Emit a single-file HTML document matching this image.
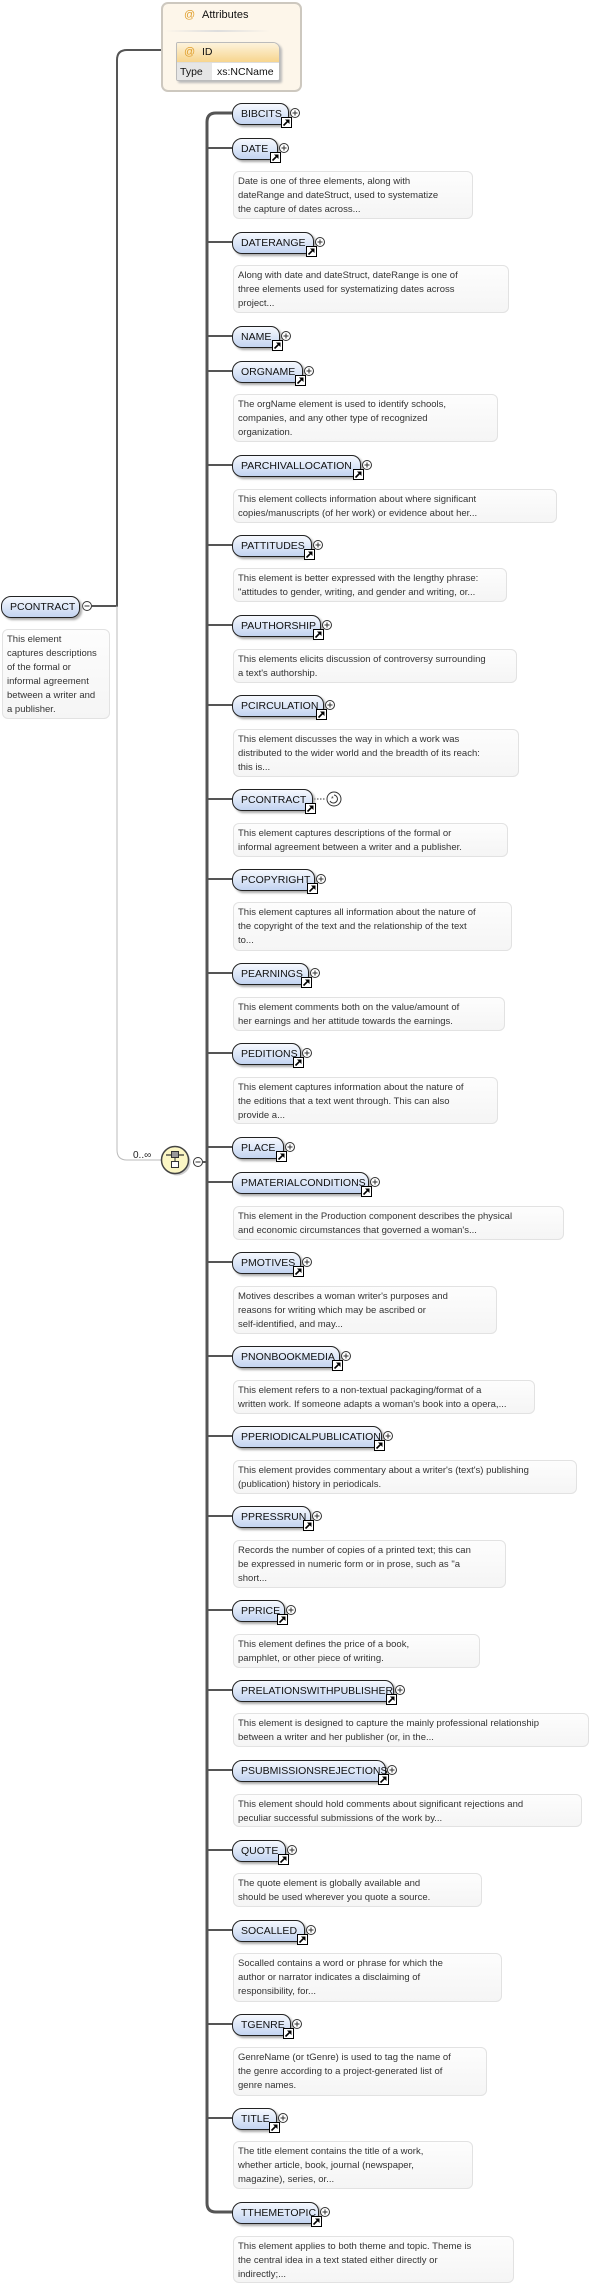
<!DOCTYPE html>
<html><head><meta charset="utf-8"><style>
html,body{margin:0;padding:0;background:#fff;}
body{width:613px;height:2287px;position:relative;overflow:hidden;font-family:"Liberation Sans",sans-serif;}
.n{position:absolute;left:232px;height:20px;border:1px solid #222;border-radius:10px 9px 9px 10px;background:linear-gradient(#f6f9fe,#c3d4f1);box-shadow:2px 2px 2px #aaa;font-size:10.5px;line-height:20px;padding-left:8px;box-sizing:content-box;color:#111;white-space:nowrap;}
.d{position:absolute;left:233px;border:1px solid #e2e2e2;border-radius:6px;background:linear-gradient(#fdfdfd,#f5f5f5);font-size:9.5px;line-height:14px;color:#333;padding:3px 0 0 4px;box-sizing:border-box;white-space:nowrap;overflow:hidden;}
svg{position:absolute;left:0;top:0;}
</style></head><body>
<svg width="613" height="2287" xmlns="http://www.w3.org/2000/svg">
<g fill="none" stroke="#555" stroke-width="3">
<path d="M232 113 H216 Q207 113 207 122 V2203 Q207 2212 216 2212 H232"/>
</g>
<g stroke="#555" stroke-width="2">
<line x1="207" y1="148" x2="232" y2="148"/><line x1="207" y1="242" x2="232" y2="242"/>
<line x1="207" y1="336" x2="232" y2="336"/><line x1="207" y1="371" x2="232" y2="371"/>
<line x1="207" y1="465" x2="232" y2="465"/><line x1="207" y1="545" x2="232" y2="545"/>
<line x1="207" y1="625" x2="232" y2="625"/><line x1="207" y1="705" x2="232" y2="705"/>
<line x1="207" y1="799" x2="232" y2="799"/><line x1="207" y1="879" x2="232" y2="879"/>
<line x1="207" y1="973" x2="232" y2="973"/><line x1="207" y1="1053" x2="232" y2="1053"/>
<line x1="207" y1="1147" x2="232" y2="1147"/><line x1="207" y1="1182" x2="232" y2="1182"/>
<line x1="207" y1="1262" x2="232" y2="1262"/><line x1="207" y1="1356" x2="232" y2="1356"/>
<line x1="207" y1="1436" x2="232" y2="1436"/><line x1="207" y1="1516" x2="232" y2="1516"/>
<line x1="207" y1="1610" x2="232" y2="1610"/><line x1="207" y1="1690" x2="232" y2="1690"/>
<line x1="207" y1="1770" x2="232" y2="1770"/><line x1="207" y1="1850" x2="232" y2="1850"/>
<line x1="207" y1="1930" x2="232" y2="1930"/><line x1="207" y1="2024" x2="232" y2="2024"/>
<line x1="207" y1="2118" x2="232" y2="2118"/>
<line x1="203" y1="1162" x2="207" y2="1162"/>
</g>
<path d="M92 606 H117 V60 Q117 50 127 50 H161" fill="none" stroke="#555" stroke-width="2"/>
<path d="M117 606 V1150 Q117 1160 127 1160 H161" fill="none" stroke="#bbb" stroke-width="1"/>
<text x="133" y="1158" font-size="10" font-family="Liberation Sans" fill="#222">0..∞</text>
<circle cx="177" cy="1162" r="13.5" fill="#999" opacity="0.5"/>
<circle cx="175" cy="1160" r="13.5" fill="#fbf6c4" stroke="#444" stroke-width="1.5"/>
<line x1="166" y1="1155" x2="184" y2="1155" stroke="#333" stroke-width="1.2"/>
<rect x="171.5" y="1151.5" width="7" height="6" fill="#999" stroke="#333"/>
<line x1="175" y1="1158" x2="175" y2="1161" stroke="#333"/>
<rect x="171.5" y="1161.5" width="7" height="6" fill="#fff" stroke="#333"/>
<circle cx="198" cy="1162" r="4.5" fill="#fff" stroke="#333"/><line x1="195.5" y1="1162" x2="200.5" y2="1162" stroke="#333"/>
<circle cx="87" cy="606" r="4.5" fill="#fff" stroke="#333"/><line x1="84.5" y1="606" x2="89.5" y2="606" stroke="#333"/>
<circle cx="170" cy="16" r="4.5" fill="#fff" stroke="#333"/><line x1="167.5" y1="16" x2="172.5" y2="16" stroke="#333"/>
<circle cx="288" cy="61" r="4.5" fill="#fff" stroke="#333"/><line x1="285.5" y1="61" x2="290.5" y2="61" stroke="#333"/><line x1="288" y1="58.5" x2="288" y2="63.5" stroke="#333"/>
<line x1="314" y1="799" x2="326" y2="799" stroke="#333" stroke-dasharray="1.5,1.5"/>
<circle cx="334" cy="799" r="7" fill="#fff" stroke="#333"/>
<path d="M330 801 A4 4 0 1 0 334 795" fill="none" stroke="#333"/>
<text x="331" y="801" font-size="7" fill="#333">*</text>
<defs>
<g id="pl"><circle cx="0" cy="0" r="4.5" fill="#fff" stroke="#333"/><line x1="-2.5" y1="0" x2="2.5" y2="0" stroke="#333"/><line x1="0" y1="-2.5" x2="0" y2="2.5" stroke="#333"/></g>
<g id="sc"><rect x="0.5" y="0.5" width="10" height="10" fill="#fff" stroke="#000"/><path d="M2.5 8.5 L7.5 3.5 M4 3 H8 V7" stroke="#000" stroke-width="1.6" fill="none"/><path d="M4.5 2.5 H8.5 V6.5 Z" fill="#000"/></g>
</defs>
</svg>

<div style="position:absolute;left:161px;top:2px;width:141px;height:90px;border:2px solid #cdc8bf;border-radius:7px;background:#fdf6ea;box-sizing:border-box;"></div>
<div style="position:absolute;left:165px;top:30px;width:105px;height:2px;background:linear-gradient(90deg,#fdf6ea,#ddd,#fdf6ea);"></div>
<div style="position:absolute;left:184px;top:9px;font-size:11px;color:#e0a030;">@</div>
<div style="position:absolute;left:202px;top:9px;font-size:11px;color:#111;">Attributes</div>
<div style="position:absolute;left:176px;top:42px;width:104px;height:39px;border:1px solid #bbb;border-radius:2px 7px 2px 2px;background:#fff;box-shadow:2px 2px 2px #bbb;box-sizing:border-box;overflow:hidden;">
<div style="height:19px;background:linear-gradient(#fdf3dc,#f7d58e);border-bottom:1px solid #ddd;"></div>
<div style="position:absolute;left:0;top:20px;width:35px;height:19px;background:#e6e6e6;"></div>
</div>
<div style="position:absolute;left:184px;top:46px;font-size:11px;color:#e0a030;">@</div>
<div style="position:absolute;left:202px;top:46px;font-size:10.5px;color:#111;">ID</div>
<div style="position:absolute;left:180px;top:66px;font-size:10.5px;color:#111;">Type</div>
<div style="position:absolute;left:217px;top:66px;font-size:10.5px;color:#111;">xs:NCName</div>

<div class="n" style="left:1px;top:596px;width:69px;">PCONTRACT</div>
<div class="d" style="left:2px;top:629px;width:108px;height:90px;white-space:normal;">This element<br>captures descriptions<br>of the formal or<br>informal agreement<br>between a writer and<br>a publisher.</div>

<div class="n" style="top:103px;width:47px;">BIBCITS</div>
<div class="n" style="top:138px;width:36px;">DATE</div>
<div class="d" style="top:171px;width:240px;height:48px;">Date is one of three elements, along with<br>dateRange and dateStruct, used to systematize<br>the capture of dates across...</div>
<div class="n" style="top:232px;width:72px;">DATERANGE</div>
<div class="d" style="top:265px;width:276px;height:48px;">Along with date and dateStruct, dateRange is one of<br>three elements used for systematizing dates across<br>project...</div>
<div class="n" style="top:326px;width:38px;">NAME</div>
<div class="n" style="top:361px;width:61px;">ORGNAME</div>
<div class="d" style="top:394px;width:265px;height:48px;">The orgName element is used to identify schools,<br>companies, and any other type of recognized<br>organization.</div>
<div class="n" style="top:455px;width:119px;">PARCHIVALLOCATION</div>
<div class="d" style="top:489px;width:324px;height:34px;">This element collects information about where significant<br>copies/manuscripts (of her work) or evidence about her...</div>
<div class="n" style="top:535px;width:70px;">PATTITUDES</div>
<div class="d" style="top:568px;width:274px;height:34px;">This element is better expressed with the lengthy phrase:<br>"attitudes to gender, writing, and gender and writing, or...</div>
<div class="n" style="top:615px;width:79px;">PAUTHORSHIP</div>
<div class="d" style="top:649px;width:284px;height:34px;">This elements elicits discussion of controversy surrounding<br>a text's authorship.</div>
<div class="n" style="top:695px;width:82px;">PCIRCULATION</div>
<div class="d" style="top:729px;width:286px;height:48px;">This element discusses the way in which a work was<br>distributed to the wider world and the breadth of its reach:<br>this is...</div>
<div class="n" style="top:789px;width:71px;">PCONTRACT</div>
<div class="d" style="top:823px;width:275px;height:34px;">This element captures descriptions of the formal or<br>informal agreement between a writer and a publisher.</div>
<div class="n" style="top:869px;width:73px;">PCOPYRIGHT</div>
<div class="d" style="top:902px;width:279px;height:49px;">This element captures all information about the nature of<br>the copyright of the text and the relationship of the text<br>to...</div>
<div class="n" style="top:963px;width:67px;">PEARNINGS</div>
<div class="d" style="top:997px;width:272px;height:34px;">This element comments both on the value/amount of<br>her earnings and her attitude towards the earnings.</div>
<div class="n" style="top:1043px;width:59px;">PEDITIONS</div>
<div class="d" style="top:1077px;width:265px;height:47px;">This element captures information about the nature of<br>the editions that a text went through. This can also<br>provide a...</div>
<div class="n" style="top:1137px;width:42px;">PLACE</div>
<div class="n" style="top:1172px;width:127px;">PMATERIALCONDITIONS</div>
<div class="d" style="top:1206px;width:331px;height:34px;">This element in the Production component describes the physical<br>and economic circumstances that governed a woman's...</div>
<div class="n" style="top:1252px;width:59px;">PMOTIVES</div>
<div class="d" style="top:1286px;width:264px;height:48px;">Motives describes a woman writer's purposes and<br>reasons for writing which may be ascribed or<br>self-identified, and may...</div>
<div class="n" style="top:1346px;width:98px;">PNONBOOKMEDIA</div>
<div class="d" style="top:1380px;width:302px;height:34px;">This element refers to a non-textual packaging/format of a<br>written work. If someone adapts a woman's book into a opera,...</div>
<div class="n" style="top:1426px;width:140px;">PPERIODICALPUBLICATION</div>
<div class="d" style="top:1460px;width:344px;height:34px;">This element provides commentary about a writer's (text's) publishing<br>(publication) history in periodicals.</div>
<div class="n" style="top:1506px;width:69px;">PPRESSRUN</div>
<div class="d" style="top:1540px;width:273px;height:48px;">Records the number of copies of a printed text; this can<br>be expressed in numeric form or in prose, such as "a<br>short...</div>
<div class="n" style="top:1600px;width:43px;">PPRICE</div>
<div class="d" style="top:1634px;width:247px;height:34px;">This element defines the price of a book,<br>pamphlet, or other piece of writing.</div>
<div class="n" style="top:1680px;width:152px;">PRELATIONSWITHPUBLISHER</div>
<div class="d" style="top:1713px;width:356px;height:34px;">This element is designed to capture the mainly professional relationship<br>between a writer and her publisher (or, in the...</div>
<div class="n" style="top:1760px;width:144px;">PSUBMISSIONSREJECTIONS</div>
<div class="d" style="top:1794px;width:349px;height:33px;">This element should hold comments about significant rejections and<br>peculiar successful submissions of the work by...</div>
<div class="n" style="top:1840px;width:44px;">QUOTE</div>
<div class="d" style="top:1873px;width:249px;height:34px;">The quote element is globally available and<br>should be used wherever you quote a source.</div>
<div class="n" style="top:1920px;width:63px;">SOCALLED</div>
<div class="d" style="top:1953px;width:269px;height:49px;">Socalled contains a word or phrase for which the<br>author or narrator indicates a disclaiming of<br>responsibility, for...</div>
<div class="n" style="top:2014px;width:49px;">TGENRE</div>
<div class="d" style="top:2047px;width:254px;height:49px;">GenreName (or tGenre) is used to tag the name of<br>the genre according to a project-generated list of<br>genre names.</div>
<div class="n" style="top:2108px;width:35px;">TITLE</div>
<div class="d" style="top:2141px;width:240px;height:48px;">The title element contains the title of a work,<br>whether article, book, journal (newspaper,<br>magazine), series, or...</div>
<div class="n" style="top:2202px;width:77px;">TTHEMETOPIC</div>
<div class="d" style="top:2236px;width:281px;height:47px;">This element applies to both theme and topic. Theme is<br>the central idea in a text stated either directly or<br>indirectly;...</div>

<svg width="613" height="2287" xmlns="http://www.w3.org/2000/svg">
<defs>
<g id="pl2"><circle cx="0" cy="0" r="4.5" fill="#fff" stroke="#333"/><line x1="-2.5" y1="0" x2="2.5" y2="0" stroke="#333"/><line x1="0" y1="-2.5" x2="0" y2="2.5" stroke="#333"/></g>
<g id="sc2"><rect x="0.5" y="0.5" width="10" height="10" fill="#fff" stroke="#000"/><path d="M2.5 8.5 L7 4" stroke="#000" stroke-width="1.6"/><path d="M4 2.5 H8.5 V7 Z" fill="#000"/></g>
</defs>
<use href="#pl2" x="295" y="113"/><use href="#sc2" x="281" y="117"/>
<use href="#pl2" x="284" y="148"/><use href="#sc2" x="270" y="152"/>
<use href="#pl2" x="320" y="242"/><use href="#sc2" x="306" y="246"/>
<use href="#pl2" x="286" y="336"/><use href="#sc2" x="272" y="340"/>
<use href="#pl2" x="309" y="371"/><use href="#sc2" x="295" y="375"/>
<use href="#pl2" x="367" y="465"/><use href="#sc2" x="353" y="469"/>
<use href="#pl2" x="318" y="545"/><use href="#sc2" x="304" y="549"/>
<use href="#pl2" x="327" y="625"/><use href="#sc2" x="313" y="629"/>
<use href="#pl2" x="330" y="705"/><use href="#sc2" x="316" y="709"/>
<use href="#sc2" x="305" y="803"/>
<use href="#pl2" x="321" y="879"/><use href="#sc2" x="307" y="883"/>
<use href="#pl2" x="315" y="973"/><use href="#sc2" x="301" y="977"/>
<use href="#pl2" x="307" y="1053"/><use href="#sc2" x="293" y="1057"/>
<use href="#pl2" x="290" y="1147"/><use href="#sc2" x="276" y="1151"/>
<use href="#pl2" x="375" y="1182"/><use href="#sc2" x="361" y="1186"/>
<use href="#pl2" x="307" y="1262"/><use href="#sc2" x="293" y="1266"/>
<use href="#pl2" x="346" y="1356"/><use href="#sc2" x="332" y="1360"/>
<use href="#pl2" x="388" y="1436"/><use href="#sc2" x="374" y="1440"/>
<use href="#pl2" x="317" y="1516"/><use href="#sc2" x="303" y="1520"/>
<use href="#pl2" x="291" y="1610"/><use href="#sc2" x="277" y="1614"/>
<use href="#pl2" x="400" y="1690"/><use href="#sc2" x="386" y="1694"/>
<use href="#pl2" x="392" y="1770"/><use href="#sc2" x="378" y="1774"/>
<use href="#pl2" x="292" y="1850"/><use href="#sc2" x="278" y="1854"/>
<use href="#pl2" x="311" y="1930"/><use href="#sc2" x="297" y="1934"/>
<use href="#pl2" x="297" y="2024"/><use href="#sc2" x="283" y="2028"/>
<use href="#pl2" x="283" y="2118"/><use href="#sc2" x="269" y="2122"/>
<use href="#pl2" x="325" y="2212"/><use href="#sc2" x="311" y="2216"/>
</svg>
</body></html>
